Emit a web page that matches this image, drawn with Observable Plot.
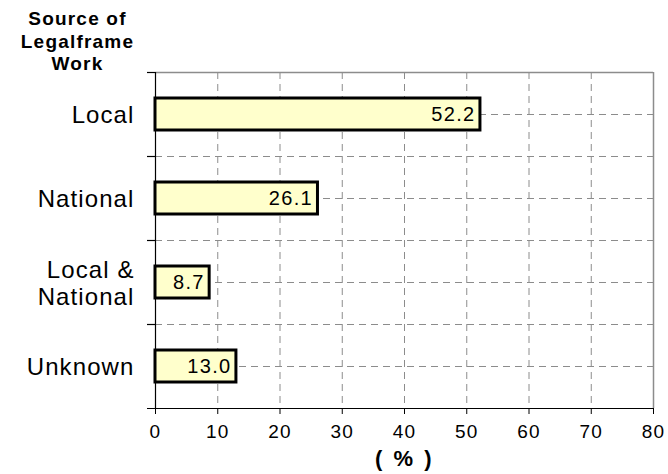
<!DOCTYPE html>
<html>
<head>
<meta charset="utf-8">
<script src="https://cdn.jsdelivr.net/npm/d3@7"></script>
<script src="https://cdn.jsdelivr.net/npm/@observablehq/plot@0.6"></script>
<style>
  body { margin: 0; background: #fff; }
  #wrap { position: relative; width: 668px; height: 474px; font-family: "Liberation Sans", Arial, sans-serif; }
  #title { position: absolute; left: 0; top: 8px; width: 155px; text-align: center;
           font-weight: bold; font-size: 19px; line-height: 22.5px; letter-spacing: 1.2px; color: #000; }
  .bars [aria-label="y-axis tick label"] text { letter-spacing: 1.1px; }
  .bars [aria-label="x-axis tick label"] text { letter-spacing: 1.3px; }
  .bars .value-label text { letter-spacing: 1.3px; }
  .bars .axis-title text { letter-spacing: 2.5px; }
</style>
</head>
<body>
<div id="wrap">
  <div id="title">Source of<br>Legalframe<br>Work</div>
  <div id="chart"></div>
</div>
<script>
// Source of legal framework, share of cases (%)
const categories = ["Local", "National", "Local &\nNational", "Unknown"];
const shares = [52.2, 26.1, 8.7, 13.0];
const xTicks = [0, 10, 20, 30, 40, 50, 60, 70, 80];
const axisTitle = "( % )";

const rows = categories.map((c, i) => ({category: c, share: shares[i]}));

const width = 668, height = 474;
const marginTop = 72, marginBottom = 66, marginLeft = 155, marginRight = 15;
const band = (height - marginTop - marginBottom) / categories.length;
const half = band / 2;
const dash = "7,5";
const gridColor = "#8c8c8c";

const chart = Plot.plot({
  width, height, marginTop, marginBottom, marginLeft, marginRight,
  className: "bars",
  style: {fontFamily: "'Liberation Sans', Arial, sans-serif", background: "#fff", color: "#000"},
  x: {domain: [0, 80]},
  y: {domain: categories, padding: 0},
  marks: [
    // vertical dashed grid
    Plot.ruleX(xTicks.filter(v => v > 0 && v < 80), {stroke: gridColor, strokeDasharray: dash, strokeWidth: 1}),
    // horizontal dashed grid at category centres and boundaries
    Plot.gridY({stroke: gridColor, strokeOpacity: 1, strokeDasharray: dash, strokeWidth: 1}),
    Plot.ruleY(categories.slice(1), {dy: -half, stroke: gridColor, strokeDasharray: dash, strokeWidth: 1}),
    // frame: top and right in grey
    Plot.ruleY(categories.slice(0, 1), {dy: -half, stroke: gridColor, strokeWidth: 1.5}),
    Plot.ruleX([80], {stroke: gridColor, strokeWidth: 1.5}),
    // left axis line with ticks at category boundaries
    Plot.ruleX([0], {stroke: "#000", strokeWidth: 1.2}),
    Plot.ruleY(categories, {x1: 0, x2: 0, dy: -half, insetLeft: -8, stroke: "#000", strokeWidth: 1.2}),
    // bottom axis line
    Plot.ruleY(categories.slice(-1), {dy: half, insetLeft: -8, stroke: "#000", strokeWidth: 1.2}),
    // bars
    Plot.barX(rows, {x: "share", y: "category", fill: "#ffffcc", stroke: "#000", strokeWidth: 3,
                     insetTop: 26, insetBottom: 26}),
    // value labels
    Plot.text(rows, {x: "share", y: "category", text: d => d.share.toFixed(1), textAnchor: "end",
                     dx: -5, fontSize: 20, fill: "#000", className: "value-label"}),
    Plot.axisY({tickSize: 0, tickPadding: 21, fontSize: 24, lineHeight: 1.15, label: null}),
    Plot.axisX({ticks: xTicks, tickSize: 6, tickPadding: 10, fontSize: 19, label: null}),
    Plot.text([axisTitle], {frameAnchor: "bottom", dy: 57, fontSize: 22, fontWeight: "bold", className: "axis-title"})
  ]
});
document.getElementById("chart").appendChild(chart);
</script>
</body>
</html>
